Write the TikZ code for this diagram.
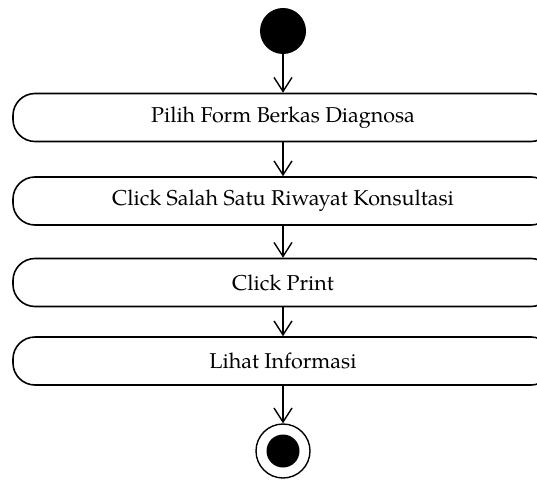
\documentclass[tikz,border=0pt]{standalone}
\usepackage{fontspec}
\setmainfont{TeX Gyre Pagella}
\usetikzlibrary{arrows.meta}
\tikzset{
  actbox/.style={draw=black, line width=1.6pt, rounded corners=22pt, minimum width=540pt, minimum height=48pt, inner sep=0pt, font=\fontsize{21.5pt}{24pt}\selectfont},
  flow/.style={draw=black, line width=1.4pt, -{Straight Barb[length=14pt,width=18pt,line width=1.4pt]}}
}
\begin{document}
\begin{tikzpicture}[x=1pt,y=-1pt]
\useasboundingbox (0,0) rectangle (537,481);
\clip (0,0) rectangle (537,481);
\node[circle, fill=black, minimum size=46pt, inner sep=0pt] (start) at (283,31) {};
\node[actbox] (b1) at (283,117.5) {Pilih Form Berkas Diagnosa};
\node[actbox] (b2) at (283,201) {Click Salah Satu Riwayat Konsultasi};
\node[actbox] (b3) at (283,282.5) {Click Print};
\node[actbox] (b4) at (283,361) {Lihat Informasi};
\node[circle, draw=black, line width=1.4pt, minimum size=54pt, inner sep=0pt] (end) at (283,451) {};
\node[circle, fill=black, minimum size=33pt, inner sep=0pt] (endin) at (283,451) {};
\draw[flow] (start) -- (b1);
\draw[flow] (b1) -- (b2);
\draw[flow] (b2) -- (b3);
\draw[flow] (b3) -- (b4);
\draw[flow] (b4) -- (end);
\end{tikzpicture}
\end{document}
